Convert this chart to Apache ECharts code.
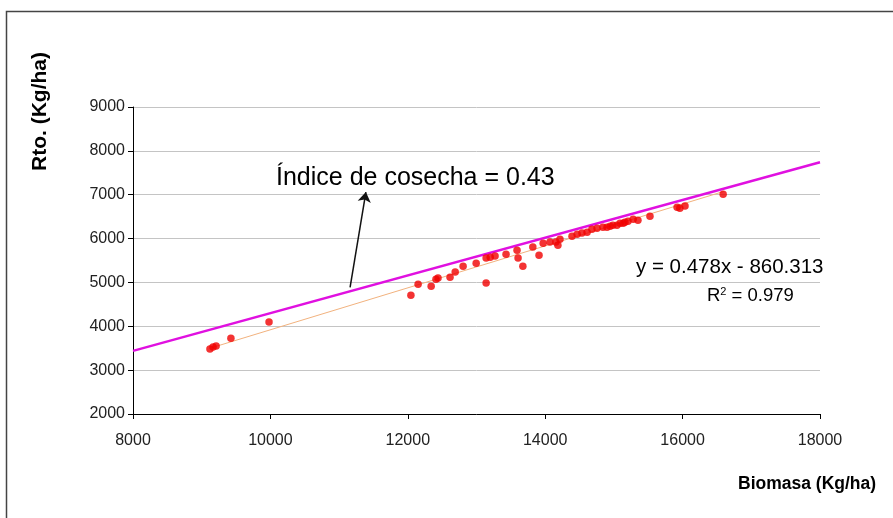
<!DOCTYPE html>
<html>
<head>
<meta charset="utf-8">
<script src="https://cdn.jsdelivr.net/npm/echarts@6/dist/echarts.min.js"></script>
<style>
  html, body { margin: 0; padding: 0; background: #fff; }
  #chart { width: 893px; height: 518px; }
</style>
</head>
<body>
<div id="chart"></div>
<script>
// Biomasa (kg/ha) vs rendimiento (kg/ha)
const biomasa = [
  9120, 9165, 9210, 9425, 9980, 12045, 12150, 12340, 12410, 12440,
  12615, 12690, 12805, 12995, 13140, 13140, 13200, 13270, 13430, 13590,
  13605, 13675, 13820, 13910, 13970, 14070, 14155, 14215, 14185, 14390,
  14465, 14535, 14610, 14680, 14755, 14840, 14900, 14945, 14985, 15045,
  15090, 15135, 15160, 15205, 15280, 15350, 15525, 15920, 15960, 16035,
  16590,
]
const rto = [
  3480, 3525, 3550, 3730, 4095, 4710, 4960, 4915, 5075, 5100,
  5120, 5235, 5370, 5440, 4985, 5555, 5575, 5600, 5645, 5735,
  5555, 5370, 5805, 5620, 5895, 5920, 5920, 5985, 5850, 6055,
  6100, 6125, 6145, 6215, 6235, 6260, 6260, 6280, 6305, 6305,
  6350, 6350, 6375, 6395, 6440, 6420, 6510, 6715, 6690, 6740,
  7010,
]

// linear trend drawn by the spreadsheet (y = 0.478x - 860.313)
const trendX = [9150, 16600]
const trendY = [3514, 7075]

// harvest index reference line, HI = 0.43
const indiceX = [8000, 18000]
const indiceY = [3440, 7740]

// arrow from the reference line up to the label
const flechaDesde = [11160, 4890]
const flechaHasta = [11390, 7060]

const xTicks = [8000, 10000, 12000, 14000, 16000, 18000]
const yTicks = [2000, 3000, 4000, 5000, 6000, 7000, 8000, 9000]

const font = 'Arial, "Liberation Sans", sans-serif'

const chart = echarts.init(document.getElementById('chart'), null, { renderer: 'canvas' })

chart.setOption({
  animation: false,
  backgroundColor: '#fff',
  grid: { left: 133, right: 73, top: 107, bottom: 104 },
  xAxis: {
    type: 'value',
    min: xTicks[0],
    max: xTicks[xTicks.length - 1],
    interval: 2000,
    axisLine: { lineStyle: { color: '#000', width: 1 } },
    axisTick: { show: true, length: 5, lineStyle: { color: '#000' } },
    axisLabel: {
      color: '#222', fontSize: 16, fontFamily: font, margin: 19,
      formatter: v => String(v),
    },
    splitLine: { show: false },
  },
  yAxis: {
    type: 'value',
    min: yTicks[0],
    max: yTicks[yTicks.length - 1],
    interval: 1000,
    axisLine: { show: true, lineStyle: { color: '#000', width: 1 } },
    axisTick: { show: true, length: 5, lineStyle: { color: '#000' } },
    axisLabel: {
      color: '#222', fontSize: 16, fontFamily: font, margin: 8,
      formatter: v => String(v),
    },
    splitLine: { show: true, lineStyle: { color: '#c4c4c4', width: 1 } },
  },
  graphic: [
    // outer chart-area frame
    {
      type: 'rect', left: 4, top: 9, silent: true,
      shape: { width: 920, height: 540 },
      style: { fill: 'none', stroke: '#444', lineWidth: 1.5 },
    },
    {
      type: 'text', left: 30, top: 52, rotation: Math.PI / 2, silent: true,
      style: { text: 'Rto. (Kg/ha)', font: 'bold 21px ' + font, fill: '#000' },
    },
    {
      type: 'text', left: 738, top: 475, silent: true,
      style: { text: 'Biomasa (Kg/ha)', font: 'bold 17.5px ' + font, fill: '#000' },
    },
    {
      type: 'text', left: 276, top: 166, silent: true,
      style: { text: 'Índice de cosecha = 0.43', font: '25px ' + font, fill: '#000' },
    },
    {
      type: 'text', left: 636, top: 257, silent: true,
      style: { text: 'y = 0.478x - 860.313', font: '20.5px ' + font, fill: '#000' },
    },
    {
      type: 'text', left: 707, top: 286, silent: true,
      style: {
        text: '{a|R}{s|2}{a| = 0.979}',
        rich: {
          a: { font: '18.5px ' + font, fill: '#000', verticalAlign: 'bottom' },
          s: { font: '11px ' + font, fill: '#000', verticalAlign: 'top', padding: [0, 0, 8, 0] },
        },
      },
    },
  ],
  series: [
    {
      name: 'Tendencia',
      type: 'line',
      data: trendX.map((x, i) => [x, trendY[i]]),
      symbol: 'none',
      lineStyle: { color: '#f2b27e', width: 1 },
      silent: true,
      z: 2,
    },
    {
      name: 'Índice de cosecha',
      type: 'line',
      data: indiceX.map((x, i) => [x, indiceY[i]]),
      symbol: 'none',
      lineStyle: { color: '#e010e0', width: 2.5 },
      silent: true,
      z: 3,
      markLine: {
        silent: true,
        symbol: ['none', 'arrow'],
        symbolSize: 10,
        label: { show: false },
        lineStyle: { color: '#111', width: 1.5, type: 'solid' },
        data: [[{ coord: flechaDesde }, { coord: flechaHasta }]],
      },
    },
    {
      name: 'Rto.',
      type: 'scatter',
      data: biomasa.map((x, i) => [x, rto[i]]),
      symbol: 'circle',
      symbolSize: 7.5,
      itemStyle: { color: '#f00000' },
      z: 4,
    },
  ],
})
</script>
</body>
</html>
